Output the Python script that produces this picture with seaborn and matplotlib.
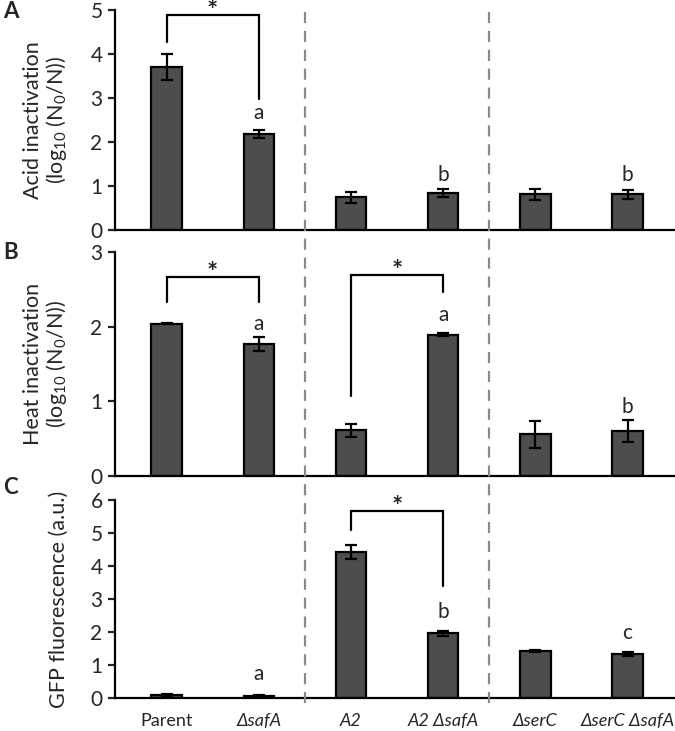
import pandas as pd
import matplotlib.pyplot as plt
import seaborn as sns
from matplotlib.lines import Line2D

# strains (x categories)
strains = ['Parent', 'ΔsafA', 'A2', 'A2 ΔsafA', 'ΔserC', 'ΔserC ΔsafA']
italic = [False, True, True, True, True, True]

# panel values
acid_mean = [3.70, 2.18, 0.74, 0.84, 0.81, 0.81]
acid_err = [0.29, 0.09, 0.13, 0.09, 0.12, 0.10]
heat_mean = [2.04, 1.77, 0.61, 1.89, 0.56, 0.60]
heat_err = [0.01, 0.09, 0.09, 0.02, 0.18, 0.15]
gfp_mean = [0.08, 0.07, 4.42, 1.96, 1.42, 1.33]
gfp_err = [0.03, 0.03, 0.22, 0.07, 0.04, 0.05]

# significance letters: (strain index, y, letter)
acid_letters = [(1, 2.66, 'a'), (3, 1.25, 'b'), (5, 1.25, 'b')]
heat_letters = [(1, 2.03, 'a'), (3, 2.16, 'a'), (5, 0.92, 'b')]
gfp_letters = [(1, 0.72, 'a'), (3, 2.6, 'b'), (5, 1.97, 'c')]

# brackets: (i0, i1, left leg end, top, right leg end)
acid_brackets = [(0, 1, 4.27, 4.89, 2.98)]
heat_brackets = [(0, 1, 2.33, 2.67, 2.33), (2, 3, 1.07, 2.69, 2.47)]
gfp_brackets = [(2, 3, 5.10, 5.67, 3.40)]

sns.set_theme(style="white")
plt.rcParams['font.family'] = ['Lato', 'DejaVu Sans']
plt.rcParams['mathtext.fontset'] = 'custom'
plt.rcParams['mathtext.rm'] = 'Lato'

fig = plt.figure(figsize=(6.75, 7.31), dpi=100)
W, H = 675, 731
left = 115 / W
boxes = [(10, 230), (252, 476), (500, 698)]
axes = []
for top, bot in boxes:
    axes.append(fig.add_axes([left, 1 - bot / H, 1 - left - 0.002, (bot - top) / H]))

panels = [
    (acid_mean, acid_err, acid_letters, acid_brackets, (0, 5), [0, 1, 2, 3, 4, 5],
     'Acid inactivation\n(log$_{10}$ (N$_0$/N))', 'A'),
    (heat_mean, heat_err, heat_letters, heat_brackets, (0, 3), [0, 1, 2, 3],
     'Heat inactivation\n(log$_{10}$ (N$_0$/N))', 'B'),
    (gfp_mean, gfp_err, gfp_letters, gfp_brackets, (0, 6), [0, 1, 2, 3, 4, 5, 6],
     'GFP fluorescence (a.u.)', 'C'),
]
tag_y = [12, 252, 488]

bar_color = '#4d4d4d'
for ax, (mean, err, letters, brackets, ylim, yticks, ylabel, tag), ty in zip(axes, panels, tag_y):
    df = pd.DataFrame({'strain': strains, 'value': mean, 'err': err})
    sns.barplot(data=df, x='strain', y='value', order=strains, color=bar_color,
                saturation=1, width=0.33, edgecolor='black', linewidth=1.6, ax=ax)
    ax.errorbar(range(len(strains)), df['value'], yerr=df['err'], fmt='none',
                ecolor='black', elinewidth=1.6, capsize=4.5, capthick=1.6)
    for i, y, s in letters:
        ax.text(i, y, s, ha='center', va='center', fontsize=15)
    for i0, i1, y0, yt, y1 in brackets:
        ax.plot([i0, i0, i1, i1], [y0, yt, yt, y1], color='black', lw=1.6,
                solid_joinstyle='miter')
        ax.annotate('*', xy=((i0 + i1) / 2, yt), xytext=(0, -6), textcoords='offset points',
                    ha='center', va='bottom', fontsize=19, fontweight='bold',
                    annotation_clip=False)
    ax.set_xlim(-0.56, 5.5)
    ax.set_ylim(*ylim)
    ax.set_yticks(yticks)
    ax.set_xlabel('')
    ax.set_ylabel(ylabel, fontsize=15.5, linespacing=1.05)
    ax.yaxis.set_label_coords(-0.082, 0.5)
    sns.despine(ax=ax)
    for sp in ['left', 'bottom']:
        ax.spines[sp].set_color('black')
        ax.spines[sp].set_linewidth(1.6)
    ax.tick_params(axis='y', left=True, length=5, width=1.6, labelsize=15, pad=4)
    ax.tick_params(axis='x', bottom=False, labelsize=13, pad=5)
    fig.text(3 / W, 1 - ty / H, tag, fontsize=16, fontweight='bold', ha='left', va='center')

for ax in axes[:2]:
    ax.set_xticklabels([])
for lab, it in zip(axes[2].get_xticklabels(), italic):
    if it:
        lab.set_fontstyle('italic')

# dashed group separators across all panels
fig.canvas.draw()
for xs in [1.5, 3.5]:
    xf = fig.transFigure.inverted().transform(axes[0].transData.transform((xs, 0)))[0]
    fig.add_artist(Line2D([xf, xf], [1 - 12 / H, 1 - 707 / H], transform=fig.transFigure,
                          color='#8a8a8a', lw=1.6, linestyle=(0, (5, 3.5))))

fig.savefig('out.png', dpi=100)
